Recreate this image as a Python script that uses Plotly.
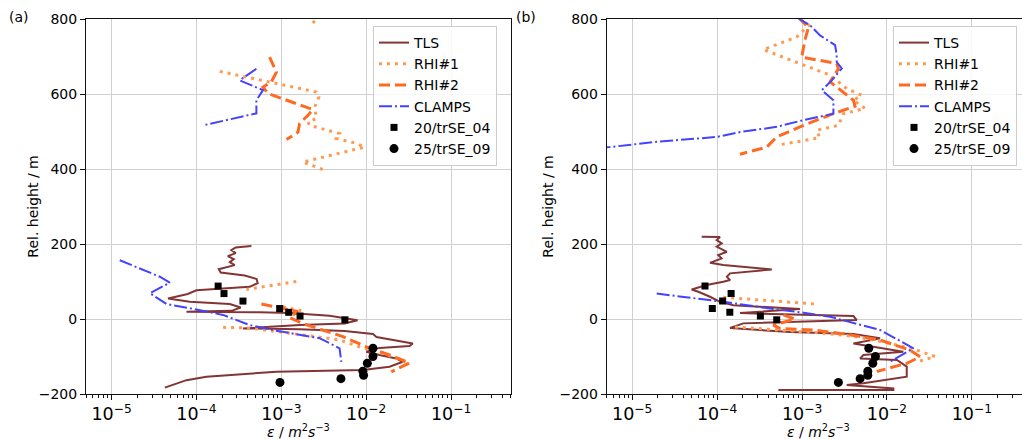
import plotly.graph_objects as go

# ---------------- panel (a) ----------------
TLS_A_EPS = [4.44e-4, 2.9e-4, 2.58e-4, 2.9e-4, 2.34e-4, 2.75e-4, 2.47e-4, 2.82e-4, 1.83e-4, 1.93e-4,
             3.7e-4, 5.12e-4, 5.26e-4, 4.24e-4, 1.0e-4, 7.9e-5, 4.63e-5, 8.34e-5, 2.47e-4, 3.32e-4,
             2.6e-4, 7.63e-5, 5.56e-4, 1.25e-3, 3.7e-3, 7.9e-3, 5.56e-3, 1.64e-3, 3.53e-4, 1.64e-3,
             5.56e-3, 1.2e-2, 1.32e-2, 2.15e-2, 3.53e-2, 3.23e-2, 1.43e-2, 1.0e-2, 1.43e-2, 2.25e-2,
             2.7e-2, 1.88e-2, 9.12e-3, 8.74e-4, 1.31e-4, 7.63e-5, 6.08e-5, 4.24e-5]
TLS_A_Z = [195, 191, 184, 176, 168, 160, 152, 144, 133, 124,
           116, 107, 96, 86, 77, 67, 55, 46, 40, 31,
           22, 19.5, 18, 16, 9, -3, -12, -16, -25, -27,
           -32, -40, -48, -56, -65, -72, -77, -87, -96, -105,
           -114, -127, -136, -140.5, -154, -163, -171, -183]

RHI1_A_EPS = [2.82e-3, 2.19e-3, None,
              1.88e-4, 2.58e-3, 2.77e-3, 2.47e-3, 2.58e-3, 2.06e-3, 2.15e-3, 4.85e-3, 4.44e-3,
              7.62e-3, 9.55e-3, 1.79e-3, 2.25e-3, 3.08e-3, None,
              1.5e-3, 3.87e-4, None,
              1.04e-3, 1.88e-3, None,
              2.06e-4, 4.24e-4, 2.58e-3, 4.85e-3, 8.34e-3, 1.57e-2, 2.25e-2, 3.08e-2]
RHI1_A_Z = [813, 781, None,
            661, 606, 593, 566, 535, 526, 517, 495, 482,
            469, 459, 419, 411, 399, None,
            100, 79, None,
            33, 20, None,
            -22, -24, -47, -56, -74, -91, -105, -117]

RHI2_A_EPS = [7.27e-4, 8.74e-4, 7.63e-4, 6.08e-4, 6.96e-4, 1.79e-3, 2.35e-3, 2.06e-3, 1.64e-3,
              1.57e-3, 1.15e-3, None,
              5.82e-4, 1.04e-3, 1.56e-3, 1.25e-3, 1.79e-3, 5.31e-3, 1.0e-2, 1.88e-2, 3.23e-2, 1.97e-2]
RHI2_A_Z = [699, 659, 633, 619, 602, 568, 559, 544, 522,
            499, 479, None,
            40, 28, 20, 4, -12, -47, -74, -96, -117, -141]

CLAMPS_A_EPS = [5.08e-4, 3.23e-4, 6.08e-4, 5.08e-4, 5.08e-4, 1.2e-4, None,
                1.25e-5, 3.7e-5, 4.85e-5, 2.83e-5, 4.44e-5, 8.34e-5, 2.06e-4, 4.24e-4, 8.74e-4,
                2.82e-3, 4.85e-3, 5.08e-3]
CLAMPS_A_Z = [668, 637, 611, 584, 549, 517, None,
              157, 113, 97, 69, 40, 29, 11, -16, -31,
              -51, -78, -114]

SQ_A_EPS = [1.8e-4, 2.11e-4, 3.53e-4, 9.55e-4, 1.22e-3, 1.66e-3, 5.6e-3]
CIR_A_EPS = [1.2e-2, 1.2e-2, 1.03e-2, 9.12e-3, 9.3e-3, 5.03e-3, 9.63e-4]

# ---------------- panel (b) ----------------
TLS_B_EPS = [6.57e-5, 1.08e-4, 9.88e-5, 1.13e-4, 9.88e-5, 1.3e-4, 1.03e-4, 1.13e-4, 8.24e-5, 1.18e-4,
             4.4e-4, 1.42e-4, 1.3e-4, 1.42e-4, 1.18e-4, 7.53e-5, 5.01e-5, 6.0e-5, 8.24e-5, 1.08e-4,
             1.55e-4, 9.47e-4, 1.86e-4, 4.03e-3, 4.41e-3, 2.03e-4, 1.42e-4, 7.22e-4, 4.03e-3, 8.3e-3,
             4.03e-3, 1.56e-2, 5.28e-3, 4.83e-3, 1.31e-2, 1.71e-2, 1.71e-2, 5.28e-3, 3.36e-3, 1.19e-2,
             1.19e-2, 5.26e-4]
TLS_B_Z = [219.5, 218.7, 210.7, 202, 193, 179.5, 170.7, 162, 150, 144,
           132.5, 122, 113, 104, 99.5, 90.7, 79, 73, 59.5, 46,
           37, 26.7, 16, 8, -2.7, -11.5, -24, -34.7, -40, -51.5,
           -65, -87, -96, -105, -109, -127, -154, -171.5, -176, -185,
           -189, -189]

RHI1_B_EPS = [1.24e-3, 1.04e-3, 8.67e-4, 3.5e-4, 6.02e-4, 1.04e-3, 2.14e-3, 3.36e-3, 5.05e-3,
              4.03e-3, 5.53e-3, 3.07e-3, 2.68e-3, 1.49e-3, 1.61e-3, 8.67e-4, 5.03e-4, None,
              1.18e-4, 1.49e-3, None,
              1.62e-4, 5.03e-4, 1.63e-3, 4.41e-3, 1.09e-2, 2.25e-2, 3.69e-2, 2.46e-2]
RHI1_B_Z = [787, 771, 753, 719, 699, 677, 651, 615, 597,
            584, 562, 548, 517, 504, 484, 473, 464, None,
            58, 40, None,
            -21, -29, -37, -47, -65, -83, -100, -112]

RHI2_B_EPS = [9.04e-4, 1.19e-3, 1.08e-3, 9.91e-4, 2.56e-3, 2.68e-3, 2.14e-3, 3.07e-3, 4.03e-3,
              4.21e-3, 2.34e-3, 1.04e-3, 5.03e-4, 3.84e-4, 1.86e-4, None,
              6.02e-4, 8.27e-4, 4.59e-4, 5.5e-4, 1.36e-3, 3.21e-3, 8.3e-3, 1.87e-2, 2.46e-2,
              1.71e-2, 7.59e-3]
RHI2_B_Z = [805, 779, 744, 699, 682, 668, 633, 606, 584,
            568, 548, 517, 486, 459, 440, None,
            11, 0, -16, -25, -29, -40, -56, -83, -101,
            -118, -140]

CLAMPS_B_EPS = [8.67e-4, 1.24e-3, 1.63e-3, 2.45e-3, 2.56e-3, 2.56e-3, 2.94e-3, 2.24e-3, 1.71e-3,
                2.04e-3, 2.34e-3, 2.34e-3, 1.04e-3, 5.03e-4, 1.86e-4, 9.88e-5, 1.94e-5, 5.46e-6,
                4.0e-6, None,
                1.94e-5, 1.18e-4, 4.2e-4, 1.04e-3, 2.14e-3, 8.3e-3, 2.05e-2, 1.09e-2]
CLAMPS_B_Z = [805, 784, 757, 731, 704, 686, 669, 637, 611,
              597, 584, 548, 531, 513, 499, 486, 473, 459,
              457, None,
              68, 46, 28, 17, 6, -29, -78, -114]

SQ_B_EPS = [7.19e-5, 1.46e-4, 1.16e-4, 8.77e-5, 1.41e-4, 3.23e-4, 5.03e-4]
CIR_B_EPS = [6.11e-3, 7.31e-3, 6.81e-3, 5.95e-3, 5.95e-3, 4.83e-3, 2.68e-3]

# sampling heights of the two point sets (shared by both panels)
SQ_Z = [88, 68, 48, 28, 18, 8, -2]
CIR_Z = [-78, -100, -118, -139, -150, -159, -169]

NAMES = ["TLS", "RHI#1", "RHI#2", "CLAMPS", "20/trSE_04", "25/trSE_09"]
PANEL_LABELS = ["(a)", "(b)"]
Y_TICKS = [-200, 0, 200, 400, 600, 800]

# ---------------- styling ----------------
C_TLS = "#833535"
C_RHI1 = "#ff9a52"
C_RHI2 = "#ff6a22"
C_CLAMPS = "#4343ff"
FONT = "DejaVu Sans"
W, H = 1022, 439

line_styles = [
    dict(color=C_TLS, width=2, dash="solid"),
    dict(color=C_RHI1, width=3, dash="3px,5px"),
    dict(color=C_RHI2, width=3, dash="11px,5px"),
    dict(color=C_CLAMPS, width=2, dash="13px,3px,2px,3px"),
]

panels = [
    dict(lines=[(TLS_A_EPS, TLS_A_Z), (RHI1_A_EPS, RHI1_A_Z), (RHI2_A_EPS, RHI2_A_Z),
                (CLAMPS_A_EPS, CLAMPS_A_Z)],
         sq=SQ_A_EPS, cir=CIR_A_EPS, xa="x", ya="y", legend="legend"),
    dict(lines=[(TLS_B_EPS, TLS_B_Z), (RHI1_B_EPS, RHI1_B_Z), (RHI2_B_EPS, RHI2_B_Z),
                (CLAMPS_B_EPS, CLAMPS_B_Z)],
         sq=SQ_B_EPS, cir=CIR_B_EPS, xa="x2", ya="y2", legend="legend2"),
]

fig = go.Figure()
for p in panels:
    for (xs, zs), name, st in zip(p["lines"], NAMES[:4], line_styles):
        fig.add_trace(go.Scatter(x=xs, y=zs, mode="lines", name=name, line=st,
                                 connectgaps=False, xaxis=p["xa"], yaxis=p["ya"],
                                 legend=p["legend"]))
    fig.add_trace(go.Scatter(x=p["sq"], y=SQ_Z, mode="markers", name=NAMES[4],
                             marker=dict(symbol="square", size=7, color="black"),
                             xaxis=p["xa"], yaxis=p["ya"], legend=p["legend"]))
    fig.add_trace(go.Scatter(x=p["cir"], y=CIR_Z, mode="markers", name=NAMES[5],
                             marker=dict(symbol="circle", size=9, color="black"),
                             xaxis=p["xa"], yaxis=p["ya"], legend=p["legend"]))

# pixel geometry of the two axes boxes
AX_LEFT = [86.0, 606.7]
AX_RIGHT = [510.5, 1031.0]
AX_TOP, AX_BOTTOM = 19.3, 394.0
LOG_LO, LOG_HI = -5.301, -0.301
px_per_dec = (AX_RIGHT[0] - AX_LEFT[0]) / (LOG_HI - LOG_LO)

grid_c = "#d0d0d0"
ydom = [1 - AX_BOTTOM / H, 1 - AX_TOP / H]


def xaxis_cfg(i):
    right = min(AX_RIGHT[i], W)
    hi = LOG_LO + (right - AX_LEFT[i]) / px_per_dec
    return dict(type="log", range=[LOG_LO, hi], domain=[AX_LEFT[i] / W, right / W],
                dtick=1, exponentformat="power", showexponent="all", automargin=False,
                showgrid=True, gridcolor=grid_c, gridwidth=1, zeroline=False,
                showline=True, linecolor="#111", linewidth=1, mirror=True,
                ticks="outside", ticklen=5, tickcolor="#111", tickwidth=1,
                minor=dict(ticks="outside", ticklen=3, tickcolor="#111", showgrid=False),
                tickfont=dict(size=14, color="black"), anchor="y" if i == 0 else "y2")


def yaxis_cfg(i):
    return dict(range=[-200, 800], domain=ydom, tickvals=Y_TICKS, automargin=False,
                showgrid=True, gridcolor=grid_c, gridwidth=1, zeroline=False,
                showline=True, linecolor="#111", linewidth=1, mirror=(i == 0),
                ticks="outside", ticklen=5, tickcolor="#111", tickwidth=1,
                tickfont=dict(size=14, color="black"), anchor="x" if i == 0 else "x2")


legend_common = dict(bgcolor="rgba(255,255,255,0.85)", bordercolor="#cccccc", borderwidth=1,
                     font=dict(family=FONT, size=14, color="black"),
                     xanchor="left", yanchor="top", y=1 - 26 / H)

xtitle = "<i>ε</i> / <i>m</i><sup>2</sup><i>s</i><sup>−3</sup>"
annotations = []
for i, (lab, lx, ytx) in enumerate(zip(PANEL_LABELS, [18.5, 526.0], [33.0, 548.0])):
    annotations.append(dict(text=lab, x=lx / W, y=1 - 17 / H, xref="paper", yref="paper",
                            showarrow=False, xanchor="center", yanchor="middle",
                            font=dict(size=14, color="black")))
    annotations.append(dict(text="Rel. height / m", x=ytx / W, y=1 - (AX_TOP + AX_BOTTOM) / 2 / H,
                            xref="paper", yref="paper", textangle=-90, showarrow=False,
                            xanchor="center", yanchor="middle",
                            font=dict(size=14, color="black")))
    cx = (AX_LEFT[i] + AX_RIGHT[i]) / 2
    annotations.append(dict(text=xtitle, x=cx / W, y=1 - 431 / H, xref="paper", yref="paper",
                            showarrow=False, xanchor="center", yanchor="middle",
                            font=dict(size=14, color="black")))

fig.update_layout(
    width=W, height=H, margin=dict(l=0, r=0, t=0, b=0, autoexpand=False),
    paper_bgcolor="white", plot_bgcolor="white",
    font=dict(family=FONT, size=14, color="black"),
    xaxis=xaxis_cfg(0), yaxis=yaxis_cfg(0),
    xaxis2=xaxis_cfg(1), yaxis2=yaxis_cfg(1),
    legend=dict(x=373 / W, **legend_common),
    legend2=dict(x=893 / W, **legend_common),
    annotations=annotations,
)

fig.write_html("out.html")
